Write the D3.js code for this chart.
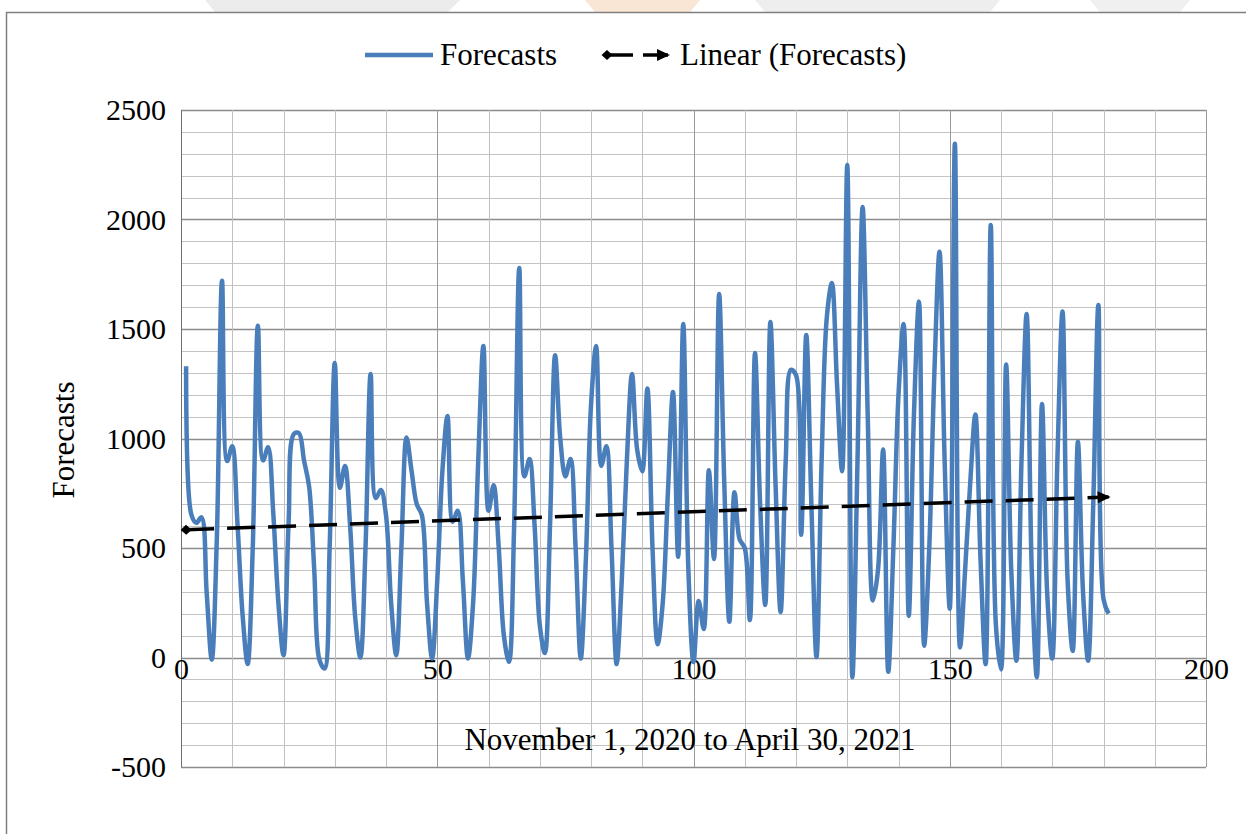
<!DOCTYPE html>
<html>
<head>
<meta charset="utf-8">
<title>Forecasts</title>
<script src="https://d3js.org/d3.v7.min.js"></script>
<style>
  body { margin: 0; background: #fff; }
  svg { display: block; font-family: "Liberation Serif", "Times New Roman", serif; }
</style>
</head>
<body>
<svg width="1246" height="834"></svg>
<script>
// daily forecasts, Nov 1 2020 .. Apr 30 2021 (day 1..181)
const forecasts = [
  1330, 655, 615, 640, 300, -10, 550, 1720, 897, 965,
  620, 200, -30, 500, 1515, 900, 960, 660, 250, 10,
  620, 1020, 1025, 900, 780, 400, -10, -50, 500, 1345,
  775, 875, 600, 180, 0, 500, 1295, 728, 765, 650,
  250, 10, 500, 1005, 850, 700, 650, 250, -5, 350,
  850, 1103, 620, 670, 350, -5, 250, 900, 1422, 670,
  787, 500, 100, -20, 600, 1778, 827, 906, 600, 150,
  20, 600, 1380, 1000, 827, 906, 500, -5, 450, 1150,
  1422, 875, 965, 500, -30, 350, 900, 1295, 950, 850,
  1228, 500, 60, 250, 750, 1212, 460, 1523, 400, -20,
  258, 130, 855, 450, 1660, 800, 163, 755, 540, 500,
  171, 1390, 700, 240, 1532, 800, 208, 900, 1313, 1290,
  560, 1473, 700, 2, 900, 1550, 1710, 1250, 850, 2249,
  -90, 900, 2057, 1100, 260, 400, 950, -65, 500, 1200,
  1523, 190, 1100, 1625, 54, 500, 1300, 1853, 900, 223,
  2346, 46, 400, 800, 1110, 450, -30, 1975, 150, -55,
  1338, 400, -15, 900, 1568, 400, -90, 1158, 300, -5,
  900, 1580, 350, 30, 985, 300, -15, 700, 1610, 267,
  200
];
// linear trend: [day, value]
const trendPoints = [[1, 583], [181, 733]];

const xTicks = [0, 50, 100, 150, 200];
const yTicks = [-500, 0, 500, 1000, 1500, 2000, 2500];

const svg = d3.select("svg");
const serif = "'Liberation Serif', 'Times New Roman', serif";

// faint watermark bits above the frame
const wm = [
  {pts: "205,0 460,0 448,12 215,12", c: "#ececec"},
  {pts: "585,0 700,0 690,12 595,12", c: "#fae6d4"},
  {pts: "755,0 1000,0 990,12 765,12", c: "#eeeeee"},
  {pts: "1090,0 1190,0 1180,12 1100,12", c: "#f0f0f0"}
];
svg.selectAll(".wm").data(wm).enter().append("polygon")
  .attr("points", d => d.pts).attr("fill", d => d.c);

// outer frame
svg.append("rect")
  .attr("x", 6.5).attr("y", 12.5).attr("width", 1260).attr("height", 840)
  .attr("fill", "#fff").attr("stroke", "#7f7f7f").attr("stroke-width", 1.5);

let x = d3.scaleLinear().domain([0, 200]).range([181, 1206]);
let y = d3.scaleLinear().domain([-500, 2500]).range([767, 110]);

let grid = svg.append("g").attr("class", "grid");

// horizontal gridlines every 100, darker every 500
grid.selectAll(".hgrid")
  .data(d3.range(-500, 2501, 100))
  .enter().append("line")
  .attr("x1", x(0)).attr("x2", x(200))
  .attr("y1", d => Math.round(y(d)) + 0.5).attr("y2", d => Math.round(y(d)) + 0.5)
  .attr("stroke", d => d % 500 === 0 ? "#8c8c8c" : "#c4c4c4")
  .attr("stroke-width", d => d % 500 === 0 ? 1.3 : 1);

// vertical gridlines every 10, darker every 50
grid.selectAll(".vgrid")
  .data(d3.range(0, 201, 10))
  .enter().append("line")
  .attr("y1", y(2500)).attr("y2", y(-500))
  .attr("x1", d => Math.round(x(d)) + 0.5).attr("x2", d => Math.round(x(d)) + 0.5)
  .attr("stroke", d => d === 0 ? "#707070" : (d % 50 === 0 ? "#999" : "#c0c0c0"))
  .attr("stroke-width", 1);

// axes (plain hyphen for negatives, no thousands separator)
let yAxis = d3.axisLeft(y).tickValues(yTicks).tickSize(0).tickPadding(15)
  .tickFormat(d => String(d));
let gy = svg.append("g").attr("transform", "translate(" + x(0) + ",0)").call(yAxis)
  .attr("font-family", serif).attr("font-size", 30);
gy.select(".domain").remove();
gy.selectAll("text").attr("fill", "#000");

let xAxis = d3.axisBottom(x).tickValues(xTicks).tickSize(0).tickPadding(0)
  .tickFormat(d => String(d));
let gx = svg.append("g").attr("transform", "translate(0," + y(0) + ")").call(xAxis)
  .attr("font-family", serif).attr("font-size", 30);
gx.select(".domain").remove();
gx.selectAll("text").attr("fill", "#000");

// markers for trend line
let defs = svg.append("defs");
defs.append("marker").attr("id", "diamond")
  .attr("viewBox", "-6 -6 12 12").attr("markerWidth", 12).attr("markerHeight", 12)
  .attr("markerUnits", "userSpaceOnUse").attr("orient", "auto")
  .append("path").attr("d", "M-5.5,0L0,-5L5.5,0L0,5Z").attr("fill", "#000");
defs.append("marker").attr("id", "arrow")
  .attr("viewBox", "-12 -7 14 14").attr("markerWidth", 14).attr("markerHeight", 14)
  .attr("markerUnits", "userSpaceOnUse").attr("orient", "auto")
  .append("path").attr("d", "M-11,-6L2,0L-11,6Z").attr("fill", "#000");

// forecasts line
let line = d3.line()
  .x((d, i) => x(i + 1))
  .y(d => y(d))
  .curve(d3.curveCatmullRom.alpha(0.5));

svg.append("path")
  .datum(forecasts)
  .attr("d", line)
  .attr("fill", "none")
  .attr("stroke", "#4a7ebb")
  .attr("stroke-width", 4.5)
  .attr("stroke-linejoin", "round");

// linear trend
svg.append("path")
  .datum(trendPoints)
  .attr("d", d3.line().x(d => x(d[0])).y(d => y(d[1])))
  .attr("fill", "none")
  .attr("stroke", "#000")
  .attr("stroke-width", 3.5)
  .attr("stroke-dasharray", "28,13")
  .attr("marker-start", "url(#diamond)")
  .attr("marker-end", "url(#arrow)");

// legend
let lg = svg.append("g").attr("font-size", 31);
lg.append("line").attr("x1", 365).attr("x2", 433).attr("y1", 55).attr("y2", 55)
  .attr("stroke", "#4a7ebb").attr("stroke-width", 4.5);
lg.append("text").attr("x", 440).attr("y", 65).text("Forecasts");
lg.append("line").attr("x1", 607).attr("x2", 668).attr("y1", 55).attr("y2", 55)
  .attr("stroke", "#000").attr("stroke-width", 3.5).attr("stroke-dasharray", "26,10")
  .attr("marker-start", "url(#diamond)").attr("marker-end", "url(#arrow)");
lg.append("text").attr("x", 680).attr("y", 65).text("Linear (Forecasts)");

// axis titles
svg.append("text")
  .attr("transform", "translate(74,440) rotate(-90)")
  .attr("text-anchor", "middle")
  .attr("font-size", 31)
  .text("Forecasts");

svg.append("text")
  .attr("x", 690).attr("y", 750)
  .attr("text-anchor", "middle")
  .attr("font-size", 31)
  .text("November 1, 2020 to April 30, 2021");
</script>
</body>
</html>
